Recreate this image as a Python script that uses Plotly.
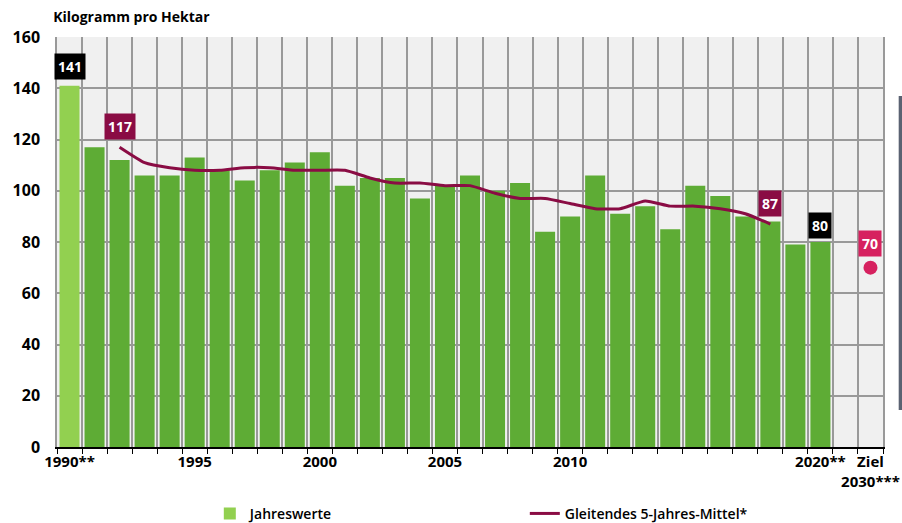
import plotly.graph_objects as go

years = [str(y) for y in range(1990, 2022)] + ["Ziel 2030"]
tick_labels = {"1990": "1990**", "1995": "1995", "2000": "2000", "2005": "2005",
               "2010": "2010", "2020": "2020**", "Ziel 2030": "Ziel<br>2030***"}

# Jahreswerte 1990-2020
annual = [141, 117, 112, 106, 106, 113, 108, 104, 108, 111,
          115, 102, 105, 105, 97, 102, 106, 100, 103, 84,
          90, 106, 91, 94, 85, 102, 98, 90, 88, 79, 80]
annual_years = [str(y) for y in range(1990, 2021)]

# Gleitendes 5-Jahres-Mittel 1992-2018
mean_years = [str(y) for y in range(1992, 2019)]
mean5 = [117, 111, 109, 108, 108, 109, 109, 108, 108, 108,
         105, 103, 103, 102, 102, 99, 97, 97, 95, 93,
         93, 96, 94, 94, 93, 91, 87]

target_label = "Ziel 2030"
target_value = 70

FONT = "Open Sans, Roboto, sans-serif"
GREEN = "#5eac35"
LIGHT_GREEN = "#92d050"
MAROON = "#8a0c44"
PINK = "#d6215f"
GRID = "#999999"

bar_colors = [LIGHT_GREEN] + [GREEN] * (len(annual) - 1)

fig = go.Figure()
fig.add_trace(go.Bar(x=annual_years, y=annual, name="Jahreswerte",
                     marker=dict(color=bar_colors, line=dict(width=0)),
                     hoverinfo="x+y"))
fig.add_trace(go.Scatter(x=mean_years, y=mean5, name="Gleitendes 5-Jahres-Mittel*",
                         mode="lines", line=dict(color=MAROON, width=3, shape="spline", smoothing=0.5)))
fig.add_trace(go.Scatter(x=[target_label], y=[target_value], mode="markers",
                         marker=dict(color=PINK, size=14), showlegend=False))

def box(cat, y, text, color, yshift):
    fig.add_annotation(x=years.index(cat), y=y, text="<b>%s</b>" % text, showarrow=False,
                       yshift=yshift, bgcolor=color,
                       font=dict(color="white", size=14, family=FONT), borderpad=3)

box(annual_years[0], annual[0], annual[0], "black", 19)
box(mean_years[0], mean5[0], mean5[0], MAROON, 21)
box(mean_years[-1], mean5[-1], mean5[-1], MAROON, 21)
box(annual_years[-1], annual[-1], annual[-1], "black", 17)
box(target_label, target_value, target_value, PINK, 24)

fig.add_shape(type="rect", xref="paper", yref="paper", x0=1.019, x1=1.03, y0=0.09, y1=0.856,
              fillcolor="#5a6272", line=dict(width=0))

fig.update_layout(
    width=902, height=523,
    margin=dict(l=57, r=19, t=37, b=76, autoexpand=False),
    paper_bgcolor="white", plot_bgcolor="#f0f0f0",
    font=dict(family=FONT, size=14, color="black"),
    title=dict(text="<b>Kilogramm pro Hektar</b>", x=0.059, xanchor="left", xref="container",
               y=0.967, yanchor="middle", font=dict(size=14, family=FONT)),
    bargap=0.2,
    showlegend=True,
    legend=dict(orientation="h", x=0.185, xanchor="left", y=-0.163, yanchor="middle",
                entrywidth=270, entrywidthmode="pixels",
                font=dict(size=14, family=FONT, weight=600), bgcolor="rgba(0,0,0,0)"),
    xaxis=dict(type="category", categoryorder="array", categoryarray=years,
               tickmode="array", tickvals=years,
               ticktext=[tick_labels.get(y, "") for y in years],
               tickson="boundaries", ticks="outside", ticklen=5, tickcolor="black",
               tickangle=0, automargin=False,
               showgrid=True, gridcolor=GRID, gridwidth=1.5,
               showline=True, linecolor="black", linewidth=2,
               tickfont=dict(size=15, family=FONT, weight="bold"),
               range=[-0.5, len(years) - 0.5]),
    yaxis=dict(range=[0, 160], dtick=20, showgrid=True, gridcolor=GRID, gridwidth=1.5,
               showline=True, linecolor=GRID, linewidth=1.5, mirror=True,
               ticks="", ticklabelstandoff=12, zeroline=False, automargin=False,
               tickfont=dict(size=16, family=FONT, weight="bold")),
)

fig.write_html("out.html", config={"displayModeBar": False},
               post_script="document.body.style.margin='0';document.body.style.overflow='hidden';")
